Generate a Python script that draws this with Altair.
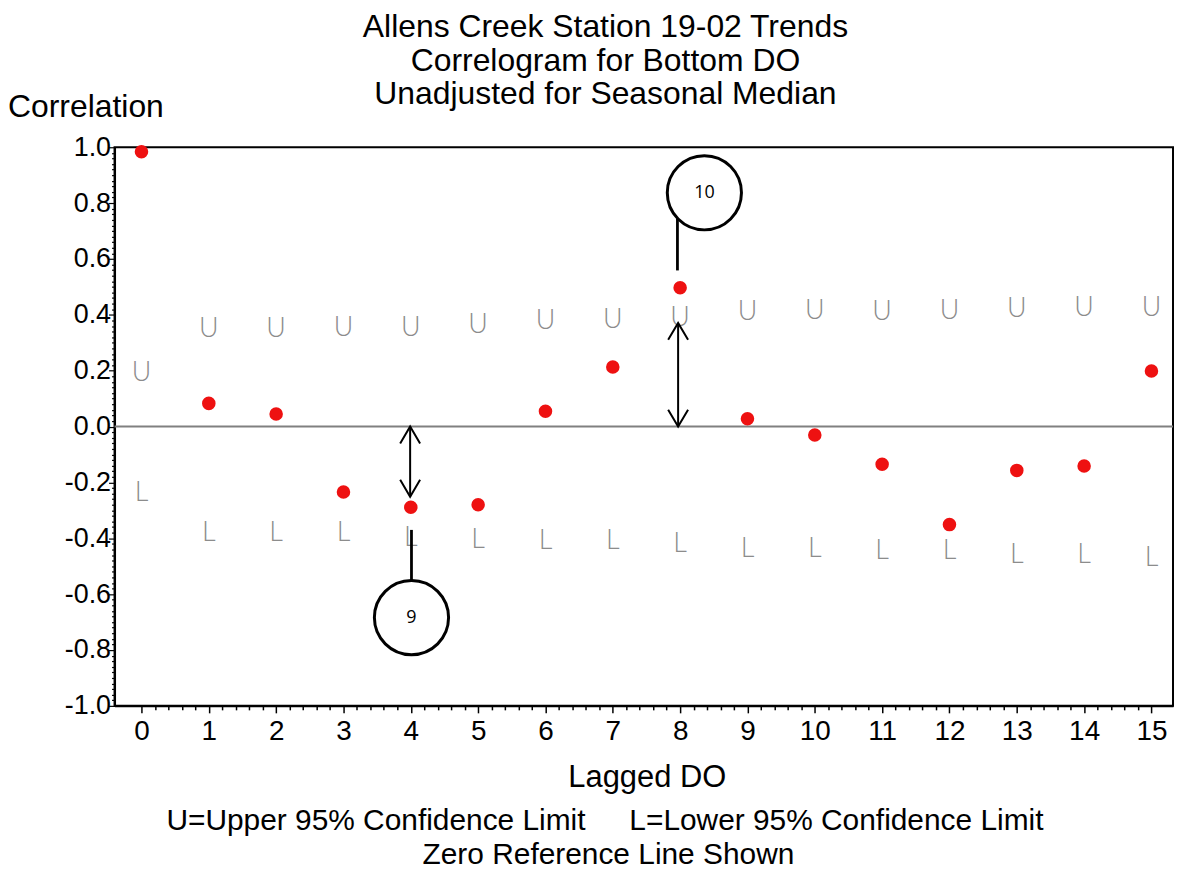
import altair as alt
import pandas as pd

# ---------------- data ----------------
lags = list(range(16))
correlation = [0.984, 0.083, 0.045, -0.234, -0.289, -0.280, 0.055, 0.213,
               0.497, 0.028, -0.030, -0.135, -0.351, -0.157, -0.141, 0.199]
upper_limit = [0.190, 0.348, 0.348, 0.352, 0.352, 0.362, 0.377, 0.380,
               0.388, 0.410, 0.412, 0.410, 0.414, 0.419, 0.423, 0.424]
lower_limit = [-0.238, -0.380, -0.380, -0.380, -0.398, -0.405, -0.410, -0.410,
               -0.420, -0.440, -0.440, -0.444, -0.447, -0.459, -0.459, -0.470]

# callout annotations (circled numbers)
callout_x = [4.01, 8.36]
callout_y = [-0.684, 0.837]
callout_text = ["9", "10"]
leader_x = [4.01, 7.96]
leader_y1 = [-0.37, 0.559]
leader_y2 = [-0.555, 0.745]
# double headed arrows
arrow_x = [3.99, 7.97]
arrow_top = [0.0, 0.371]
arrow_bottom = [-0.251, 0.0]

title_lines = ["Allens Creek Station 19-02 Trends",
               "Correlogram for Bottom DO",
               "Unadjusted for Seasonal Median"]
y_title = "Correlation"
x_title = "Lagged DO"
foot_a = "U=Upper 95% Confidence Limit"
foot_b = "L=Lower 95% Confidence Limit"
foot_2 = "Zero Reference Line Shown"

x_ticks = [round(i * 0.2, 1) for i in range(0, 76)]
y_ticks = [round(-1 + i * 0.02, 2) for i in range(101)]

FONT = "Liberation Sans"
W, H = 1063, 561

df = pd.DataFrame({"lag": lags, "r": correlation, "U": upper_limit, "L": lower_limit})
df["u_txt"] = "U"
df["l_txt"] = "L"

x_scale = alt.Scale(domain=[-0.4, 15.32], nice=False, zero=False)
y_scale = alt.Scale(domain=[-1, 1], nice=False)

Y_MAJOR = "abs(datum.value*5 - round(datum.value*5)) < 0.001"

x_axis = alt.Axis(values=x_ticks, tickCount=200, title=None, grid=False,
                  labelExpr="abs(datum.value - round(datum.value)) < 0.001 ? '' + round(datum.value) : ''",
                  tickSize={"condition": {"test": "abs(datum.value - round(datum.value)) < 0.001", "value": 7}, "value": 4},
                  labelFontSize=28, labelPadding=5, labelFont=FONT, labelColor="black",
                  domainColor="black", domainWidth=2, tickColor="black", tickWidth=1.5,
                  labelFlush=False, labelOverlap=False)
y_axis = alt.Axis(values=y_ticks, tickCount=200, title=None, grid=False,
                  labelExpr=Y_MAJOR + " ? (datum.value < -0.001 ? '-' + format(abs(datum.value), '.1f') : format(abs(datum.value), '.1f')) : ''",
                  tickSize={"condition": {"test": Y_MAJOR, "value": 6}, "value": 3},
                  labelFontSize=27, labelPadding=-2, labelFont=FONT, labelColor="black",
                  domainColor="black", domainWidth=2, tickColor="black", tickWidth=1.2,
                  labelFlush=False, labelOverlap=False)

base = alt.Chart(df)

zero_line = alt.Chart(alt.Data(values=[{"z": 0}])).mark_rule(color="#808080", strokeWidth=2).encode(
    y=alt.Y("z:Q", scale=y_scale, axis=y_axis))

LIM_FONT = "Lato, Liberation Sans"
upper = base.mark_text(font=LIM_FONT, fontWeight=300, fontSize=27,
                       color="#8c8c8c", baseline="middle", align="center").encode(
    x=alt.X("lag:Q", scale=x_scale, axis=x_axis), y=alt.Y("U:Q", scale=y_scale), text="u_txt:N")
lower = base.mark_text(font=LIM_FONT, fontWeight=300, fontSize=27,
                       color="#8c8c8c", baseline="middle", align="center").encode(
    x=alt.X("lag:Q", scale=x_scale), y=alt.Y("L:Q", scale=y_scale), text="l_txt:N")

dots = base.mark_point(filled=True, color="#ee1111", size=185, opacity=1).encode(
    x=alt.X("lag:Q", scale=x_scale), y=alt.Y("r:Q", scale=y_scale))

leader_df = pd.DataFrame({"x": leader_x, "y1": leader_y1, "y2": leader_y2})
leaders = alt.Chart(leader_df).mark_rule(color="black", strokeWidth=2.8).encode(
    x=alt.X("x:Q", scale=x_scale), y=alt.Y("y1:Q", scale=y_scale), y2="y2:Q")

callout_df = pd.DataFrame({"x": callout_x, "y": callout_y, "t": callout_text})
circles = alt.Chart(callout_df).mark_point(shape="circle", filled=False, color="black",
                                           strokeWidth=3, size=5550, opacity=1).encode(
    x=alt.X("x:Q", scale=x_scale), y=alt.Y("y:Q", scale=y_scale))
circle_txt = alt.Chart(callout_df).mark_text(font="Open Sans", fontSize=18, color="black",
                                             baseline="middle", align="center").encode(
    x=alt.X("x:Q", scale=x_scale), y=alt.Y("y:Q", scale=y_scale), text="t:N")

arrow_df = pd.DataFrame({"x": arrow_x, "top": arrow_top, "bottom": arrow_bottom})
shafts = alt.Chart(arrow_df).mark_rule(color="black", strokeWidth=2).encode(
    x=alt.X("x:Q", scale=x_scale), y=alt.Y("top:Q", scale=y_scale), y2="bottom:Q")
heads_up = alt.Chart(arrow_df).mark_point(shape="M-1,1.7L0,0L1,1.7", filled=False, color="black",
                                          strokeWidth=2, size=400, opacity=1).encode(
    x=alt.X("x:Q", scale=x_scale), y=alt.Y("top:Q", scale=y_scale))
heads_down = alt.Chart(arrow_df).mark_point(shape="M-1,-1.7L0,0L1,-1.7", filled=False, color="black",
                                            strokeWidth=2, size=400, opacity=1).encode(
    x=alt.X("x:Q", scale=x_scale), y=alt.Y("bottom:Q", scale=y_scale))


def label(txt, px, py, size=31, align="center"):
    return alt.Chart(alt.Data(values=[{"t": txt}])).mark_text(
        align=align, baseline="alphabetic", fontSize=size, font=FONT, color="black"
    ).encode(x=alt.value(px), y=alt.value(py), text="t:N")


texts = [
    label(title_lines[0], 493, -111, size=32),
    label(title_lines[1], 493, -77, size=32),
    label(title_lines[2], 493, -43, size=32),
    label(y_title, -107, -30, size=32, align="left"),
    label(x_title, 535, 642, size=31),
    label(foot_a, 473, 686, size=30, align="right"),
    label(foot_b, 517, 686, size=30, align="left"),
    label(foot_2, 496, 720, size=30),
]

chart = alt.layer(
    zero_line, upper, lower, leaders, circles, circle_txt, shafts, heads_up, heads_down, dots, *texts
).properties(
    width=W, height=H,
    padding={"left": 107, "top": 138, "right": 1, "bottom": 166},
    autosize=alt.AutoSizeParams(type="none"),
    background="white",
).configure_view(stroke="black", strokeWidth=2)

chart.save("out.html", embed_options={"renderer": "svg", "actions": False})
